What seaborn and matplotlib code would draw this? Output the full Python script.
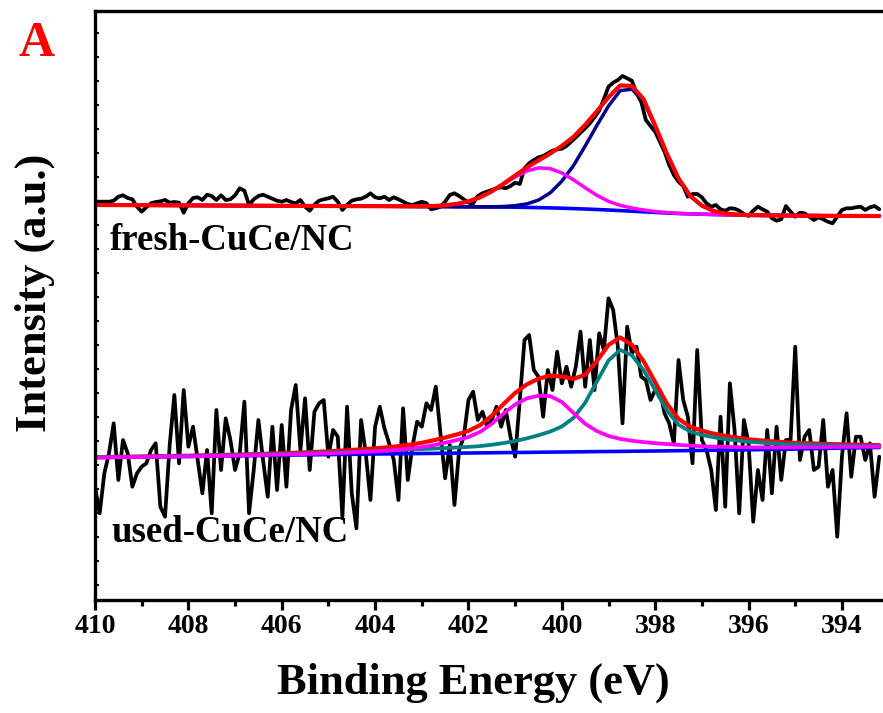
import numpy as np
import pandas as pd
import matplotlib
matplotlib.use("Agg")
import matplotlib.pyplot as plt
import seaborn as sns
from matplotlib.ticker import MultipleLocator, FixedLocator

sns.set_style("ticks")
plt.rcParams['font.family'] = ['Liberation Serif', 'DejaVu Serif']
plt.rcParams['font.weight'] = 'bold'
for key in ['text.color', 'axes.labelcolor', 'xtick.color', 'ytick.color', 'axes.edgecolor']:
    plt.rcParams[key] = 'black'

# ---------------- data ----------------
raw_energy = np.round(np.linspace(410.0, 393.2, 169), 2)

fresh_raw = [
    398.3, 398.3, 398.3, 398.3, 399.3, 403.3, 404.7, 402, 400.7, 393.3,
    388.3, 392.7, 396.7, 398, 398.7, 400, 397.3, 398, 397.3, 387.3,
    396.7, 402, 402.7, 400, 405.3, 404, 400, 404.7, 400, 400.7,
    404.7, 411.7, 409.3, 395, 400.7, 404, 405.3, 403.3, 401.3, 399.3,
    398.3, 400, 398, 396.7, 400, 393.3, 389.3, 395.3, 399.3, 400.7,
    401.7, 403.3, 398.3, 390, 395.3, 399.3, 400.7, 401.3,
    403.3, 406.7, 402.7, 401.7, 403.3, 400, 402.7, 400.7, 398.3, 396,
    395, 396.7, 398.3, 396.7, 390.7, 391.7, 393.3, 398.3, 405, 406.7,
    404, 400.7, 397.3, 396.7, 404, 406.7, 408.3, 410, 411.7, 412.7,
    411.7, 414, 417.3, 416, 431.7, 436.7, 440, 442.7, 444, 446.7,
    449.3, 450.7, 451.3, 454, 458.3, 462.7, 467.3, 471.7, 476.7, 482.7,
    489.3, 500.7, 513.3, 517.3, 520, 524,
    521.7, 519.3, 506.7, 498.3, 480, 474, 468.3, 458.3, 448.3, 435,
    425, 418.3, 414, 403.3, 406, 406, 402.7, 396.7, 393.3, 395,
    390.7, 389.3, 391.7, 391.3, 389.3, 386, 384, 389.3, 393.3, 390.7,
    388.3, 381.7, 379.3, 380.7, 394, 388.3, 383.3, 387.3, 386.7, 383.3,
    380, 382.7, 380.7, 378.3, 376.7, 383.3, 390, 391.7, 391.7, 392.7,
    393.3, 390, 392.7, 394, 390.7,
]

used_raw = [
    113.3, 86.7, 126.7, 146.7, 176.7, 120, 160, 146.7, 113.3, 126.7,
    133.3, 136.7, 150, 156.7, 93.3, 83.3, 155, 205, 136.7, 210,
    153.3, 173.3, 140, 106.7, 150, 86.7, 190, 130, 181.7, 160,
    130, 146.7, 198.3, 86.7, 130, 180, 140, 103.3, 173.3, 110,
    175, 113.3, 190,
    215, 150, 201.7, 130, 188.3, 196.7, 200, 143.3, 170, 163.3,
    83.3, 193.3, 106.7, 71.7, 180, 146.7, 100, 173.3, 193.3, 171.7,
    156.7, 140, 100, 191.7, 120, 153.3, 178.3, 173.3, 196.7, 190,
    213.3, 166.7, 121.7, 155, 95, 150, 163.3, 200, 208.3, 180,
    188.3, 173.3,
    180, 193.3, 173.3, 190, 163.3, 143.3, 200, 260, 265, 230,
    223.3, 183.3, 230, 210, 248.3, 216.7, 233.3, 213.3, 233.3, 268.3,
    213.3, 260, 210, 266.7, 250, 301.7, 290, 253.3, 176.7, 273.3,
    246.7, 253.3, 223.3, 220, 200, 210, 210, 186.7, 176.7, 156.7,
    240,
    200, 183.3, 136.7, 250, 160, 150, 130, 90, 183.3, 93.3,
    216.7, 170, 86.7, 180, 156.7, 78.3, 130, 100, 170, 106.7,
    173.3, 120, 160, 160, 253.3, 140, 163.3, 170, 130, 133.3,
    180, 113.3, 130, 63.3, 143.3, 186.7, 123.3, 163.3, 163.3, 140,
    156.7, 103.3, 143.3,
]

fit_energy = [410, 409, 408, 407, 406, 405, 404.5, 404, 403.75, 403.5,
              403.25, 403, 402.75, 402.5, 402.25, 402, 401.75, 401.5, 401.25, 401,
              400.75, 400.5, 400.25, 400, 399.75, 399.5, 399.25, 399, 398.75, 398.5,
              398.25, 398, 397.75, 397.5, 397.25, 397, 396.75, 396.5, 396.25, 396,
              395.75, 395.5, 395, 394.5, 394, 393.2]

fresh_background = [395, 394.8, 394.6, 394.4, 394.2, 394, 393.9, 393.8, 393.75, 393.7,
                    393.6, 393.5, 393.45, 393.4, 393.3, 393.2, 393.1, 393, 392.9, 392.8,
                    392.6, 392.4, 392.1, 391.8, 391.4, 391, 390.5, 390, 389.4, 388.8,
                    388.2, 387.6, 387, 386.5, 386.1, 385.8, 385.5, 385.2, 385, 384.8,
                    384.7, 384.6, 384.4, 384.3, 384.1, 384]
fresh_peak_high = [0, 0, 0, 0, 0, 0, 0, 0, 0, 0,
                   0.1, 0.2, 0.5, 1.3, 2.8, 5.4, 9.6, 15.5, 22.8, 30.2,
                   36.4, 39.7, 39.3, 35.3, 28.8, 21.2, 14.2, 8.7, 5.2, 3.2,
                   1.8, 0.9, 0.4, 0.15, 0, 0, 0, 0, 0, 0,
                   0, 0, 0, 0, 0, 0]
fresh_peak_low = [0, 0, 0, 0, 0, 0, 0, 0, 0, 0,
                  0, 0, 0, 0, 0, 0, 0, 0.2, 0.6, 1.5,
                  3.5, 7.5, 15, 27, 43, 63, 84, 104, 120, 122,
                  111, 86, 59, 35, 18, 8.5, 3.5, 1.3, 0.4, 0.1,
                  0, 0, 0, 0, 0, 0]

used_background = [142.5, 143, 143.5, 144.1, 144.8, 145.4, 145.7, 146, 146.1, 146.25,
                   146.4, 146.5, 146.6, 146.75, 146.9, 147, 147.1, 147.25, 147.4, 147.5,
                   147.6, 147.75, 147.9, 148, 148.1, 148.25, 148.4, 148.5, 148.6, 148.75,
                   148.9, 149, 149.15, 149.3, 149.45, 149.6, 149.75, 149.9, 150.05, 150.2,
                   150.4, 150.6, 151, 151.5, 152, 152.5]
used_peak_high = [0, 0.05, 0.15, 0.3, 0.6, 1.2, 1.8, 2.6, 3.2, 4,
                  5, 6.3, 8.3, 10.5, 13, 16, 21, 29, 39, 48,
                  54, 56.5, 56, 50, 39, 28, 20.5, 15.5, 12.5, 10.5,
                  9, 7.8, 6.8, 5.8, 4.9, 4.2, 3.6, 3.2, 2.8, 2.5,
                  2.2, 2, 1.6, 1.3, 1.1, 0.8]
used_peak_low = [0.3, 0.4, 0.6, 0.9, 1.3, 2, 2.5, 3, 3.3, 3.6,
                 4, 4.4, 4.8, 5.2, 5.6, 6.1, 6.8, 8, 9.5, 11.5,
                 14, 17, 20.5, 25.5, 34, 49, 70, 91, 101.5, 96,
                 81, 61, 40.5, 26, 19, 15.5, 13, 11, 9.5, 8,
                 7, 6, 4.5, 3.5, 2.5, 1.5]

xtick_values = [410, 408, 406, 404, 402, 400, 398, 396, 394]
sample_labels = ["fresh-CuCe/NC", "used-CuCe/NC"]

# ---------------- figure ----------------
fig = plt.figure(figsize=(8.83, 7.13), dpi=100)
ax = fig.add_axes([95 / 883, 113 / 713, 788 / 883, 589 / 713])

fb = np.array(fresh_background)
ub = np.array(used_background)
fe = np.array(fit_energy)

def line(x, y, color, lw):
    sns.lineplot(x=x, y=y, ax=ax, color=color, linewidth=lw, sort=False,
                 estimator=None, legend=False)

# fresh
line(raw_energy, fresh_raw, "black", 2.7)
line(fe, fb, "#0000FF", 2.6)
line(fe, fb + np.array(fresh_peak_low), "#00008B", 2.5)
line(fe, fb + np.array(fresh_peak_high), "#FF00FF", 2.5)
line(fe, fb + np.array(fresh_peak_low) + np.array(fresh_peak_high), "#FF0000", 3.0)

# used
line(raw_energy, used_raw, "black", 2.7)
line(fe, ub, "#0000FF", 2.6)
line(fe, ub + np.array(used_peak_low) + np.array(used_peak_high), "#FF0000", 3.0)
line(fe, ub + np.array(used_peak_low), "#008080", 2.7)
line(fe, ub + np.array(used_peak_high), "#FF00FF", 2.7)

ax.set_xlim(410, 393.12)
ax.set_ylim(0, 589)
ax.set_xlabel("")
ax.set_ylabel("")

for s in ax.spines.values():
    s.set_linewidth(2.4)
    s.set_color("black")
ax.spines['right'].set_visible(False)

ax.xaxis.set_major_locator(FixedLocator(xtick_values))
ax.xaxis.set_minor_locator(MultipleLocator(1))
ax.tick_params(axis='x', which='major', direction='out', length=7, width=2.3,
               labelsize=20, pad=3, top=False)
ax.tick_params(axis='x', which='minor', direction='out', length=4, width=2.3, top=False)
for lab in ax.get_xticklabels():
    lab.set_fontweight('bold')

ax.yaxis.set_major_locator(FixedLocator(np.arange(15, 589, 24)))
ax.tick_params(axis='y', which='major', direction='in', length=3, width=1.5,
               labelleft=False)

ax.text(409.68, 360, sample_labels[0], fontsize=26.5, fontweight='bold', ha='left', va='center')
ax.text(409.64, 67, sample_labels[1], fontsize=26.5, fontweight='bold', ha='left', va='center')

fig.text(37 / 883, 1 - 44 / 713, "A", color="#FF0000", fontsize=36, fontweight='bold',
         ha='center', va='center')
fig.text(35 / 883, 1 - 293 / 713, "Intensity (a.u.)", fontsize=32, fontweight='bold',
         rotation=90, ha='center', va='center')
fig.text(473 / 883, 1 - 683 / 713, "Binding Energy (eV)", fontsize=32, fontweight='bold',
         ha='center', va='center')

fig.savefig("out.png", dpi=100)
